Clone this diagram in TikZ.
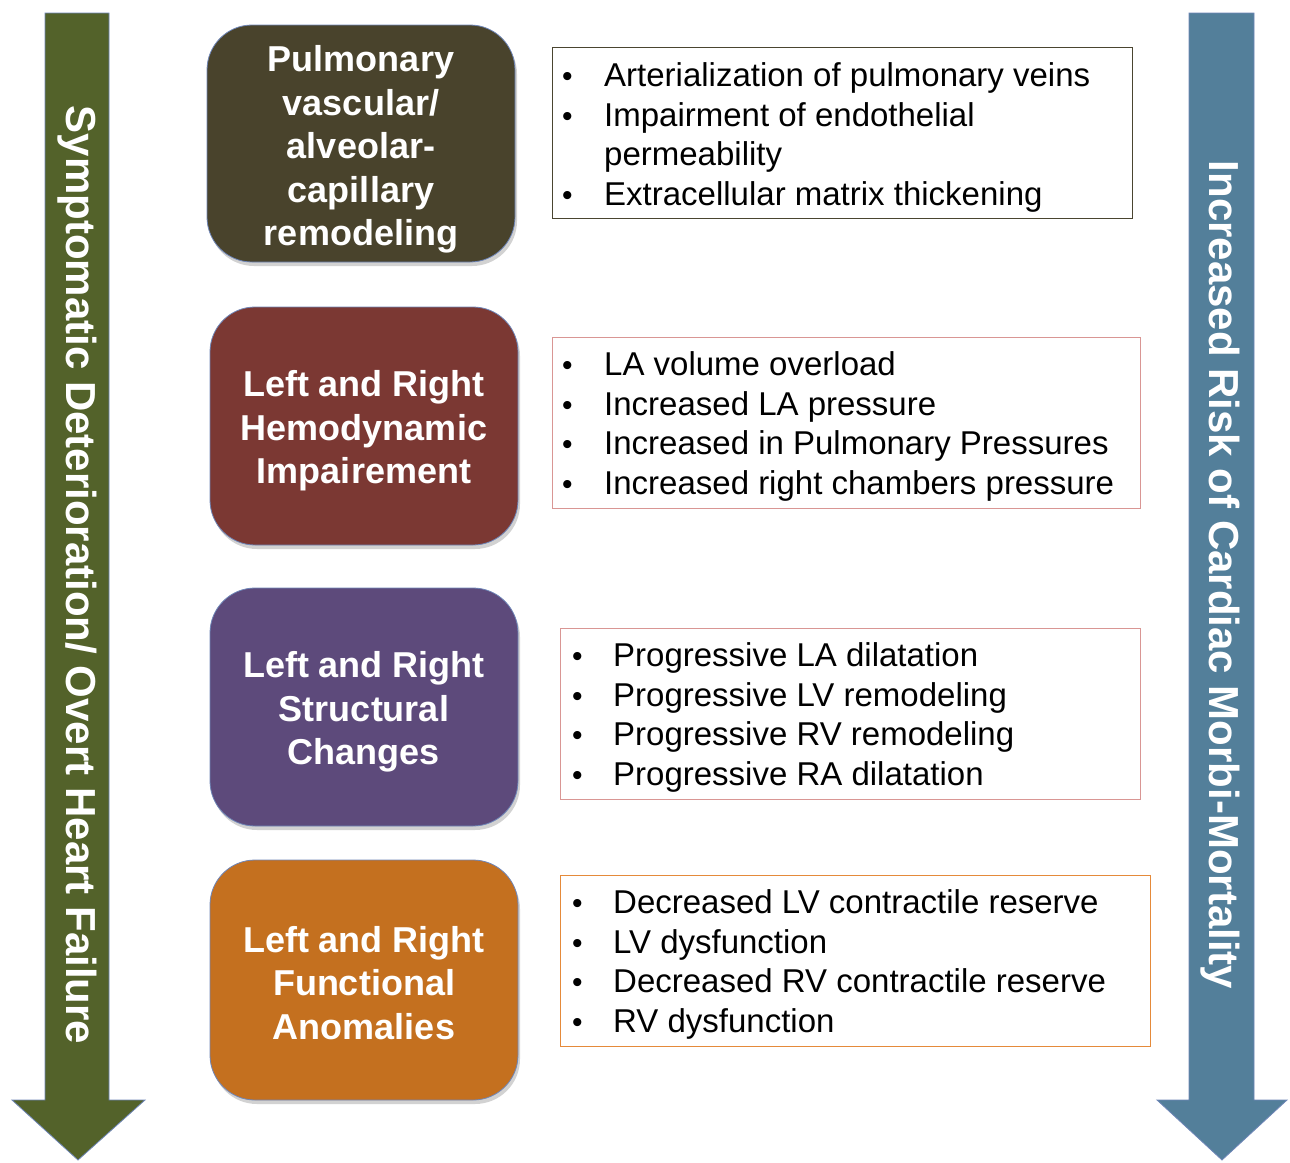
\documentclass[tikz,border=0pt]{standalone}
\usepackage{fontspec}
\setmainfont{Liberation Sans}
\usetikzlibrary{shadows}
\definecolor{olivebox}{HTML}{49432C}
\definecolor{redbox}{HTML}{7B3833}
\definecolor{purplebox}{HTML}{5D4A7B}
\definecolor{orangebox}{HTML}{C4701F}
\definecolor{greenarrow}{HTML}{53622A}
\definecolor{bluearrow}{HTML}{537F9A}
\definecolor{edgeblue}{HTML}{6F86B8}
\definecolor{tbolive}{HTML}{4A4530}
\definecolor{tbred}{HTML}{D99694}
\definecolor{tborange}{HTML}{E58A3A}
\tikzset{
  stagebox/.style={rounded corners=45pt, draw=edgeblue, line width=0.8pt,
    minimum width=308pt, minimum height=238pt, inner sep=0pt,
    drop shadow={opacity=0.35, shadow xshift=2pt, shadow yshift=-4pt}},
  stagetext/.style={text=white, align=center, inner sep=0pt,
    font=\fontsize{36}{43.5}\selectfont\bfseries},
  listbox/.style={draw, line width=1pt, inner sep=0pt, fill=white},
  listtext/.style={anchor=west, inner sep=0pt, align=left,
    font=\fontsize{33}{39.5}\selectfont},
  sidearrow/.style={draw=edgeblue, line width=0.8pt},
  sidetext/.style={text=white, rotate=-90, inner sep=0pt,
    font=\fontsize{42}{50}\selectfont\bfseries}
}
\newcommand{\bul}[1]{\makebox[#1][l]{\fontsize{30}{39.5}\selectfont\textbullet}}
\begin{document}
\begin{tikzpicture}[x=1pt,y=-1pt]
\useasboundingbox[fill=white] (0,0) rectangle (1290,1162);

% side arrows
\fill[greenarrow, sidearrow] (45,13) -- (109,13) -- (109,1100) -- (145,1100) -- (78,1160) -- (12,1100) -- (45,1100) -- cycle;
\fill[bluearrow, sidearrow] (1189,13) -- (1254,13) -- (1254,1100) -- (1287,1100) -- (1222,1160) -- (1157,1100) -- (1189,1100) -- cycle;
\node[sidetext] (lt) at (77,575) {Symptomatic Deterioration/ Overt Heart Failure};
\node[sidetext] (rt) at (1220,575) {Increased Risk of Cardiac Morbi-Mortality};

% stage boxes
\node[stagebox, fill=olivebox, minimum height=237pt] (b1) at (361,143.5) {};
\node[stagebox, fill=redbox] (b2) at (364,426) {};
\node[stagebox, fill=purplebox] (b3) at (364,707) {};
\node[stagebox, fill=orangebox, minimum height=240pt] (b4) at (364,980) {};
\node[stagetext] (s1) at (361,149.5) {Pulmonary\\vascular/\\alveolar-\\capillary\\remodeling};
\node[stagetext] (s2) at (364,431) {Left and Right\\Hemodynamic\\Impairement};
\node[stagetext] (s3) at (364,712) {Left and Right\\Structural\\Changes};
\node[stagetext] (s4) at (364,983) {Left and Right\\Functional\\Anomalies};

% list boxes
\draw[listbox, draw=tbolive] (552,47) rectangle (1132,218);
\draw[listbox, draw=tbred] (552,337) rectangle (1140,508);
\draw[listbox, draw=tbred] (560,628) rectangle (1140,799);
\draw[listbox, draw=tborange] (560,875) rectangle (1150,1046);

\node[listtext] (l1) at (562,138) {\begin{tabular}{@{}l@{}l@{}}
\bul{42pt} & Arterialization of pulmonary veins\\
\bul{42pt} & Impairment of endothelial\\
 & permeability\\
\bul{42pt} & Extracellular matrix thickening
\end{tabular}};
\node[listtext] (l2) at (562,427) {\begin{tabular}{@{}l@{}l@{}}
\bul{42pt} & LA volume overload\\
\bul{42pt} & Increased LA pressure\\
\bul{42pt} & Increased in Pulmonary Pressures\\
\bul{42pt} & Increased right chambers pressure
\end{tabular}};
\node[listtext] (l3) at (572,718) {\begin{tabular}{@{}l@{}l@{}}
\bul{41pt} & Progressive LA dilatation\\
\bul{41pt} & Progressive LV remodeling\\
\bul{41pt} & Progressive RV remodeling\\
\bul{41pt} & Progressive RA dilatation
\end{tabular}};
\node[listtext] (l4) at (572,965) {\begin{tabular}{@{}l@{}l@{}}
\bul{41pt} & Decreased LV contractile reserve\\
\bul{41pt} & LV dysfunction\\
\bul{41pt} & Decreased RV contractile reserve\\
\bul{41pt} & RV dysfunction
\end{tabular}};
\end{tikzpicture}
\end{document}
